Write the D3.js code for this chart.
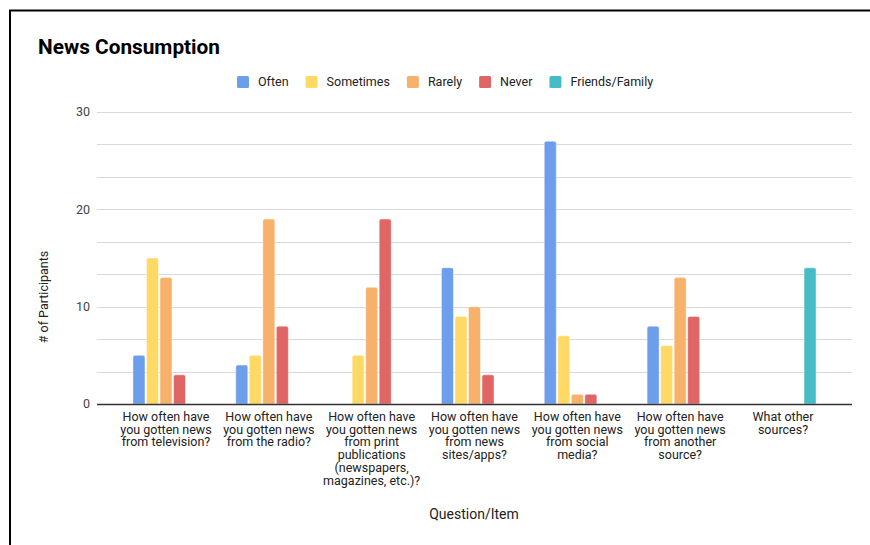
<!DOCTYPE html>
<html><head><meta charset="utf-8">
<script src="https://cdn.jsdelivr.net/npm/d3@7"></script>
<style>
html,body{margin:0;padding:0;background:#fff;}
svg{display:block;font-family:Roboto, "Noto Sans", Arial, sans-serif;}
</style></head>
<body>
<svg id="chart" width="870" height="545"></svg>
<script>
const categories = [
  ["How often have","you gotten news","from television?"],
  ["How often have","you gotten news","from the radio?"],
  ["How often have","you gotten news","from print","publications","(newspapers,","magazines, etc.)?"],
  ["How often have","you gotten news","from news","sites/apps?"],
  ["How often have","you gotten news","from social","media?"],
  ["How often have","you gotten news","from another","source?"],
  ["What other","sources?"]
];
const seriesNames = ["Often","Sometimes","Rarely","Never","Friends/Family"];
const seriesColors = ["#6d9eeb","#ffd966","#f6b26b","#e06666","#46bdc6"];
const often     = [5, 4, 0, 14, 27, 8, 0];
const sometimes = [15, 5, 5, 9, 7, 6, 0];
const rarely    = [13, 19, 12, 10, 1, 13, 0];
const never     = [3, 8, 19, 3, 1, 9, 0];
const friends   = [0, 0, 0, 0, 0, 0, 14];
const yTicks = [0, 10, 20, 30];
const title = "News Consumption";
const xTitle = "Question/Item";
const yTitle = "# of Participants";

const seriesValues = [often, sometimes, rarely, never, friends];
const svg = d3.select("#chart");

// frame lines (top and left)
svg.append("line").attr("x1",9).attr("x2",870).attr("y1",10.5).attr("y2",10.5).attr("stroke","#000").attr("stroke-width",2);
svg.append("line").attr("x1",10).attr("x2",10).attr("y1",10).attr("y2",545).attr("stroke","#000").attr("stroke-width",2);

const plotL = 97, plotR = 852;
const y = d3.scaleLinear().domain([0,30]).range([404,112]);
const catIdx = categories.map((c,i)=>i);
const x0 = d3.scaleBand().domain(catIdx).range([114.6, 834.4]).padding(0);
const groupW = 67.5;
const x1 = d3.scaleBand().domain(seriesNames).range([0, groupW]).paddingInner(0.11).paddingOuter(0.05);

// gridlines: major ticks plus two minor lines between them
const gridVals = [];
yTicks.forEach((t,i)=>{
  gridVals.push(t);
  if(i<yTicks.length-1){
    const step=(yTicks[i+1]-t)/3;
    gridVals.push(t+step, t+2*step);
  }
});
svg.append("g").selectAll("line").data(gridVals.filter(v=>v!==0)).join("line")
  .attr("x1",plotL).attr("x2",plotR)
  .attr("y1",d=>Math.round(y(d))+0.5).attr("y2",d=>Math.round(y(d))+0.5)
  .attr("stroke","#d9d9d9").attr("stroke-width",1.2);

// y tick labels
svg.append("g").selectAll("text").data(yTicks).join("text")
  .attr("x",90).attr("y",d=>y(d)).attr("dy","0.35em")
  .attr("text-anchor","end").attr("font-size",12.5).attr("fill","#444")
  .text(d=>d);

// bars
const barData = [];
seriesValues.forEach((vals,s)=>{
  vals.forEach((v,c)=>{ if(v>0) barData.push({s, c, v}); });
});
const r = 2;
svg.append("g").selectAll("path").data(barData).join("path")
  .attr("d",d=>{
    const xl = x0(d.c) + (x0.bandwidth()-groupW)/2 + x1(seriesNames[d.s]);
    const w = x1.bandwidth();
    const yt = y(d.v), yb = y(0);
    return `M${xl},${yb}V${yt+r}Q${xl},${yt} ${xl+r},${yt}H${xl+w-r}Q${xl+w},${yt} ${xl+w},${yt+r}V${yb}Z`;
  })
  .attr("fill",d=>seriesColors[d.s])
  .attr("stroke","rgba(255,255,255,0.45)").attr("stroke-width",1);

// baseline
svg.append("line").attr("x1",plotL).attr("x2",plotR).attr("y1",404.5).attr("y2",404.5)
  .attr("stroke","#333").attr("stroke-width",1.3);

// x labels
const xl = svg.append("g");
categories.forEach((lines,i)=>{
  const t = xl.append("text").attr("text-anchor","middle").attr("font-size",12.5).attr("fill","#222")
    .attr("x", x0(i)+x0.bandwidth()/2).attr("y",421);
  lines.forEach((ln,j)=>{
    t.append("tspan").attr("x", x0(i)+x0.bandwidth()/2).attr("dy", j===0?0:12.7).text(ln);
  });
});

// title
svg.append("text").attr("x",38).attr("y",54).attr("font-size",20.8).attr("font-weight","bold").attr("fill","#000").text(title);

// axis titles
svg.append("text").attr("x",474).attr("y",519).attr("text-anchor","middle").attr("font-size",14).attr("fill","#222").text(xTitle);
svg.append("text").attr("transform","translate(48,297) rotate(-90)").attr("text-anchor","middle").attr("font-size",12.5).attr("fill","#222").text(yTitle);

// legend
const lg = svg.append("g");
let lx = 237;
seriesNames.forEach((n,i)=>{
  lg.append("rect").attr("x",lx).attr("y",76).attr("width",12).attr("height",12).attr("rx",1.5).attr("fill",seriesColors[i]);
  const t = lg.append("text").attr("x",lx+21).attr("y",82).attr("dy","0.35em").attr("font-size",12.5).attr("fill","#222").text(n);
  lx = lx + 21 + t.node().getComputedTextLength() + 17;
});
</script>
</body></html>
